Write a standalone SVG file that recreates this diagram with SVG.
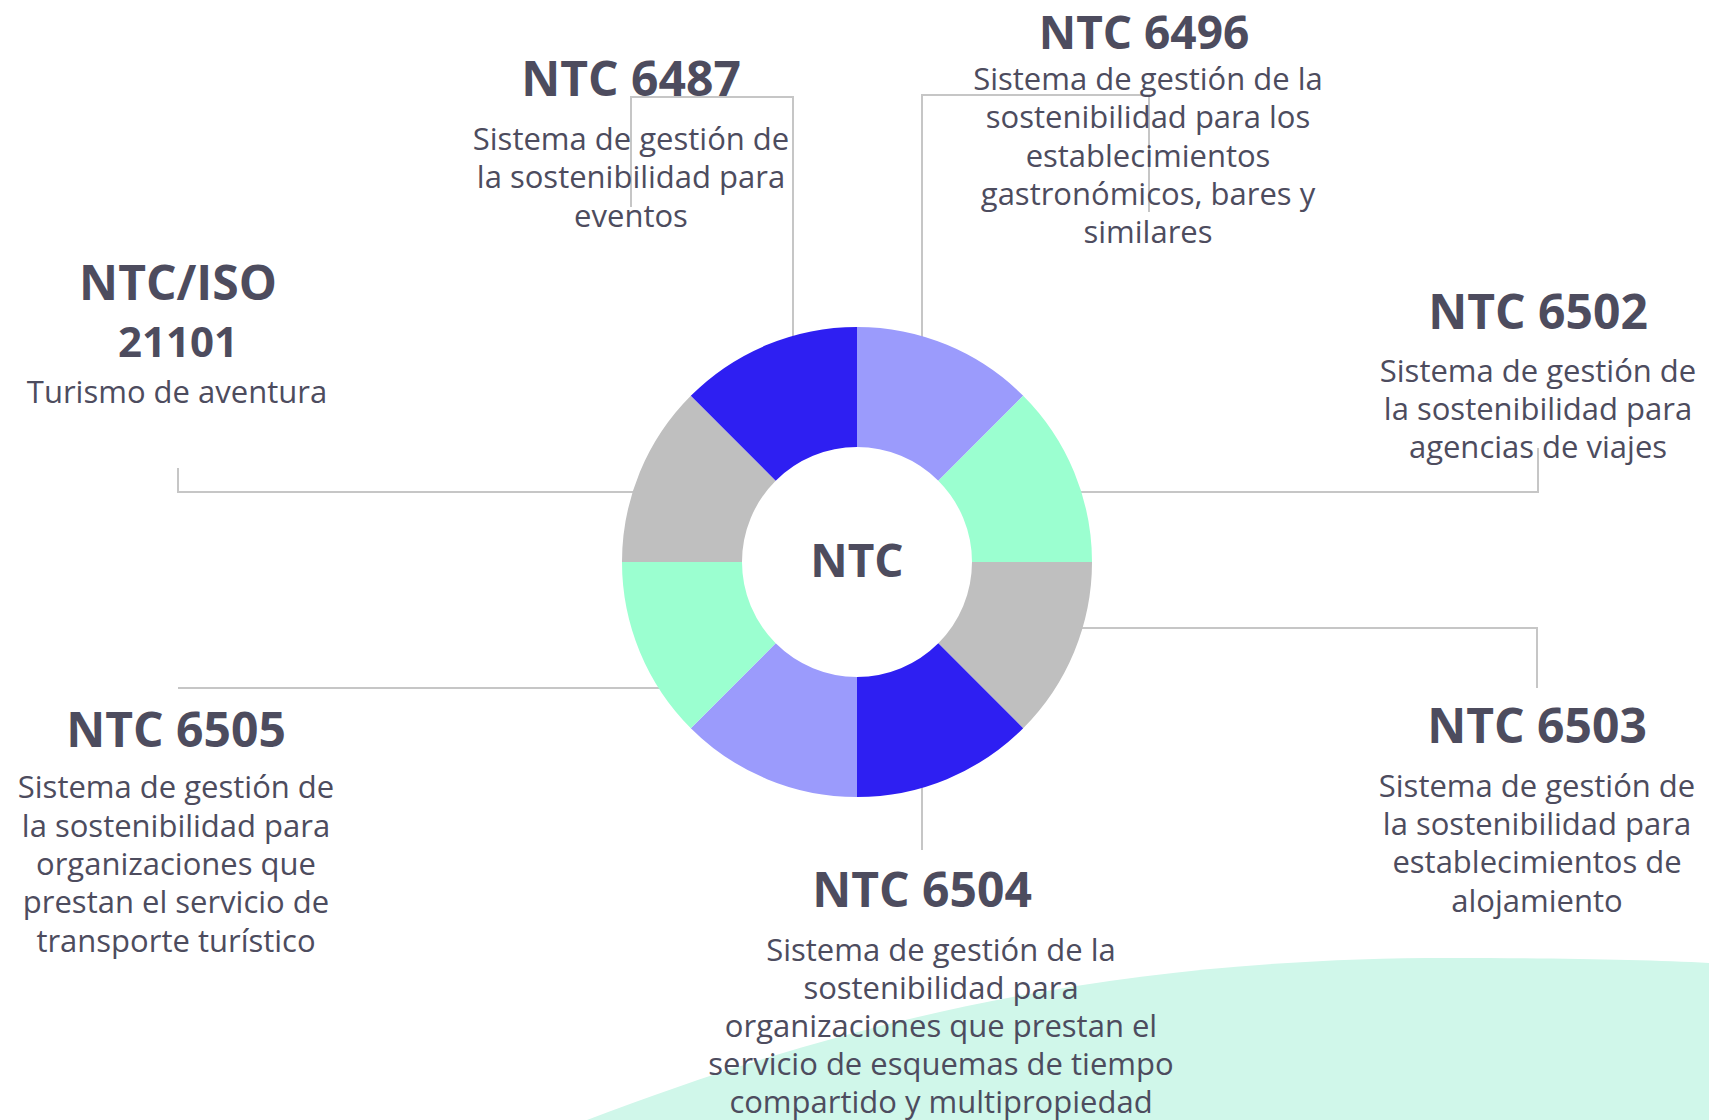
<svg xmlns="http://www.w3.org/2000/svg" width="1709" height="1120" viewBox="0 0 1709 1120">
<style>
.t{font-family:"Open Sans","Liberation Sans",sans-serif;font-weight:700;font-size:48px;fill:#4D4C5E;text-anchor:middle}
.b{font-family:"Open Sans","Liberation Sans",sans-serif;font-weight:400;font-size:31px;fill:#4D4C5E;text-anchor:middle}
.c{fill:none;stroke:#C6C6C6;stroke-width:2}
.blue{fill:#2E1FF2}.lav{fill:#9B9BFC}.mint{fill:#9BFFD0}.gray{fill:#BFBFBF}
</style>
<rect width="1709" height="1120" fill="#FFFFFF"/>
<path d="M587,1120 C887,1005 1150,958 1450,958 C1560,958 1650,960 1709,963 L1709,1120 Z" fill="#D0F7EA"/>
<g id="connectors">
<path class="c" d="M178,468 V492 H645"/>
<path class="c" d="M631,207 V97 H793 V350"/>
<path class="c" d="M1149,212 V95 H922 V350"/>
<path class="c" d="M1070,492 H1538 V448"/>
<path class="c" d="M1070,628 H1537 V688"/>
<path class="c" d="M178,688 H675"/>
<path class="c" d="M922,775 V850"/>
</g>
<g id="donut">
<path class="lav" d="M857,327 A235,235 0 0 1 1023.2,395.8 L938.3,480.7 A115,115 0 0 0 857,447 Z"/>
<path class="mint" d="M1023.2,395.8 A235,235 0 0 1 1092,562 L972,562 A115,115 0 0 0 938.3,480.7 Z"/>
<path class="gray" d="M1092,562 A235,235 0 0 1 1023.2,728.2 L938.3,643.3 A115,115 0 0 0 972,562 Z"/>
<path class="blue" d="M1023.2,728.2 A235,235 0 0 1 857,797 L857,677 A115,115 0 0 0 938.3,643.3 Z"/>
<path class="lav" d="M857,797 A235,235 0 0 1 690.8,728.2 L775.7,643.3 A115,115 0 0 0 857,677 Z"/>
<path class="mint" d="M690.8,728.2 A235,235 0 0 1 622,562 L742,562 A115,115 0 0 0 775.7,643.3 Z"/>
<path class="gray" d="M622,562 A235,235 0 0 1 690.8,395.8 L775.7,480.7 A115,115 0 0 0 742,562 Z"/>
<path class="blue" d="M690.8,395.8 A235,235 0 0 1 857,327 L857,447 A115,115 0 0 0 775.7,480.7 Z"/>
<text class="t" x="857" y="577" style="font-size:46px">NTC</text>
</g>
<g id="ntc-iso-21101">
<text class="t" x="178" y="300">NTC/ISO</text>
<text class="t" x="178" y="357" style="font-size:42px">21101</text>
<text class="b" x="177" y="403">Turismo de aventura</text>
</g>
<g id="ntc-6487">
<text class="t" x="631" y="96">NTC 6487</text>
<text class="b" x="631" y="150">Sistema de gestión de</text>
<text class="b" x="631" y="188">la sostenibilidad para</text>
<text class="b" x="631" y="227">eventos</text>
</g>
<g id="ntc-6496">
<text class="t" x="1144" y="49" style="font-size:46px">NTC 6496</text>
<text class="b" x="1148" y="90">Sistema de gestión de la</text>
<text class="b" x="1148" y="128">sostenibilidad para los</text>
<text class="b" x="1148" y="167">establecimientos</text>
<text class="b" x="1148" y="205">gastronómicos, bares y</text>
<text class="b" x="1148" y="243">similares</text>
</g>
<g id="ntc-6502">
<text class="t" x="1538" y="329">NTC 6502</text>
<text class="b" x="1538" y="382">Sistema de gestión de</text>
<text class="b" x="1538" y="420">la sostenibilidad para</text>
<text class="b" x="1538" y="458">agencias de viajes</text>
</g>
<g id="ntc-6503">
<text class="t" x="1537" y="743">NTC 6503</text>
<text class="b" x="1537" y="797">Sistema de gestión de</text>
<text class="b" x="1537" y="835">la sostenibilidad para</text>
<text class="b" x="1537" y="873">establecimientos de</text>
<text class="b" x="1537" y="912">alojamiento</text>
</g>
<g id="ntc-6505">
<text class="t" x="176" y="747">NTC 6505</text>
<text class="b" x="176" y="798">Sistema de gestión de</text>
<text class="b" x="176" y="837">la sostenibilidad para</text>
<text class="b" x="176" y="875">organizaciones que</text>
<text class="b" x="176" y="913">prestan el servicio de</text>
<text class="b" x="176" y="952">transporte turístico</text>
</g>
<g id="ntc-6504">
<text class="t" x="922" y="907">NTC 6504</text>
<text class="b" x="941" y="961">Sistema de gestión de la</text>
<text class="b" x="941" y="999">sostenibilidad para</text>
<text class="b" x="941" y="1037">organizaciones que prestan el</text>
<text class="b" x="941" y="1075">servicio de esquemas de tiempo</text>
<text class="b" x="941" y="1113">compartido y multipropiedad</text>
</g>
</svg>
